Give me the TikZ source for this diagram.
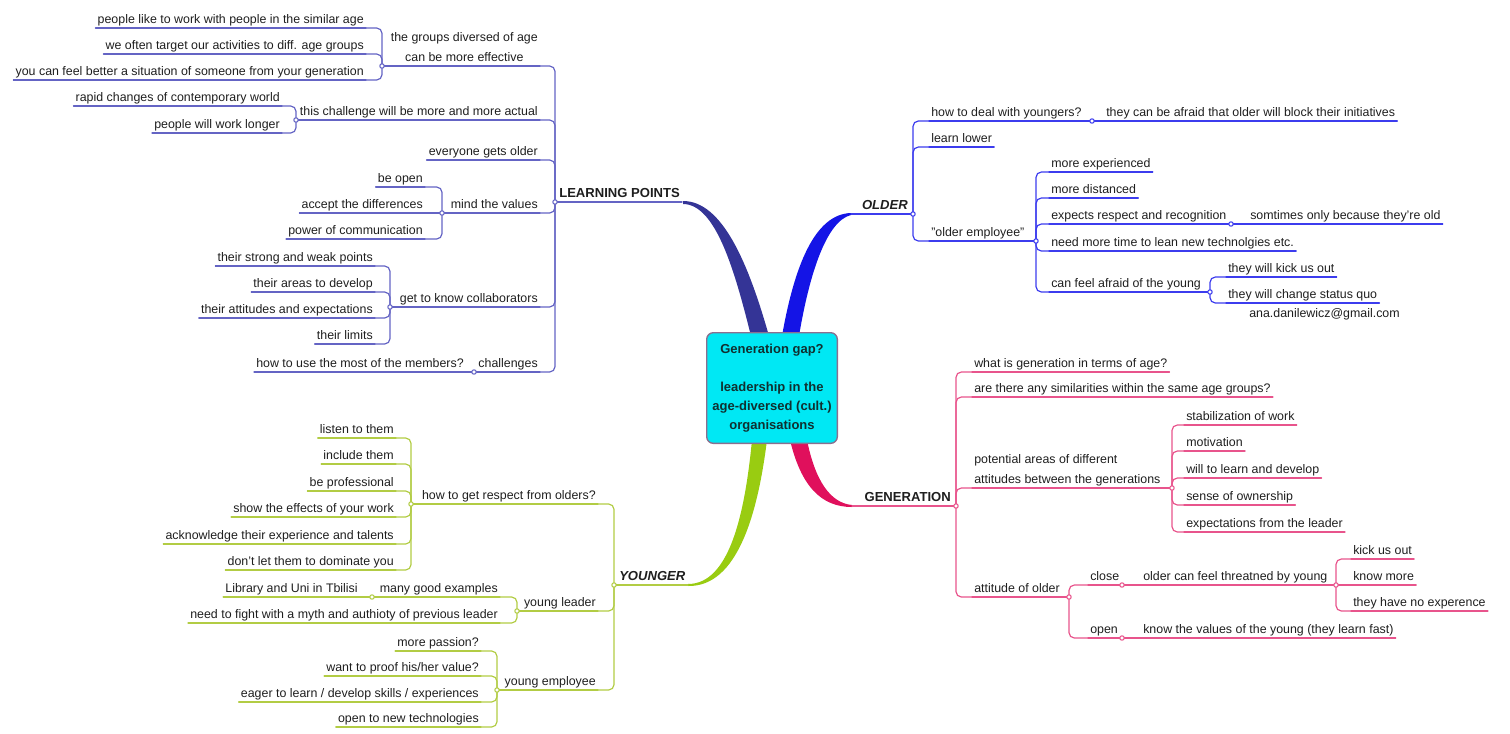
\documentclass[tikz,border=0pt]{standalone}
\usepackage{fontspec}
\setmainfont{Liberation Sans}
\usetikzlibrary{calc}
\definecolor{txt}{HTML}{1E1E1E}
\definecolor{lpcol}{HTML}{6464C4}
\definecolor{lpbranch}{HTML}{343496}
\definecolor{ocol}{HTML}{3C3CEE}
\definecolor{obranch}{HTML}{1414E6}
\definecolor{gcol}{HTML}{E8548C}
\definecolor{gbranch}{HTML}{E0105C}
\definecolor{ycol}{HTML}{B2CC44}
\definecolor{ybranch}{HTML}{99CC11}
\definecolor{boxfill}{HTML}{00E8F4}
\definecolor{boxline}{HTML}{8B6F8F}
\definecolor{boxtext}{HTML}{103030}
\begin{document}
\begin{tikzpicture}[x=0.75pt, y=-0.75pt, line cap=round, line join=round, font=\fontsize{9.3}{15}\selectfont]
	\tikzset{item/.style={inner xsep=1.5pt, inner ysep=0.8pt, text depth=2.2pt, text=txt},
		head/.style={item, font=\fontsize{9.8}{12}\selectfont\bfseries},
		lpline/.style={draw=lpcol, line width=0.9pt, rounded corners=4pt},
		oline/.style={draw=ocol, line width=0.9pt, rounded corners=4pt},
		gline/.style={draw=gcol, line width=0.9pt, rounded corners=4pt},
		yline/.style={draw=ycol, line width=0.9pt, rounded corners=4pt},
		junc/.style={fill=white, line width=0.8pt}}
	\useasboundingbox (0,0) rectangle (1510,733);
	% main branches
	\fill[lpbranch] (683,201) .. controls (722,201) and (748,262) .. (769,336) -- (751,336) .. controls (735,272) and (716,204) .. (683,204) -- cycle;
	\fill[obranch] (782,336) .. controls (794,268) and (814,214) .. (851,213) -- (851,215) .. controls (826,221) and (809,276) .. (799,336) -- cycle;
	\fill[gbranch] (790,440) .. controls (801,486) and (821,507) .. (852,507) -- (852,505) .. controls (830,503) and (815,480) .. (807,440) -- cycle;
	\fill[ybranch] (752,440) .. controls (745,512) and (730,584) .. (688,584) -- (688,586) .. controls (738,587) and (758,512) .. (767,440) -- cycle;
	\node[draw=boxline, fill=boxfill, rounded corners=5pt, line width=1pt, minimum width=98pt, minimum height=83pt, align=center, text=boxtext,
		font=\fontsize{9.75}{14.3}\selectfont\bfseries] (gap) at (772,388) {Generation gap?\\[14.3pt]leadership in the\\age-diversed (cult.)\\organisations};

	% LEARNING POINTS
	\node[head, anchor=south west] (lp) at (557,202) {LEARNING POINTS};
	\coordinate (lpJ) at (555,202);
	\draw[lpline] (lpJ) -- (lp.south east);
	\node[item, anchor=south east, align=center] (lpA) at (540,66) {the groups diversed of age\\can be more effective};
	\coordinate (lpAJ) at (382,66);
	\node[item, anchor=south east] (lpA1) at (366,28) {people like to work with people in the similar age};
	\node[item, anchor=south east] (lpA2) at (366,54) {we often target our activities to diff. age groups};
	\node[item, anchor=south east] (lpA3) at (366,80) {you can feel better a situation of someone from your generation};
	\node[item, anchor=south east] (lpB) at (540,120) {this challenge will be more and more actual};
	\coordinate (lpBJ) at (296,120);
	\node[item, anchor=south east] (lpB1) at (282,106) {rapid changes of contemporary world};
	\node[item, anchor=south east] (lpB2) at (282,133) {people will work longer};
	\node[item, anchor=south east] (lpC) at (540,160) {everyone gets older};
	\node[item, anchor=south east] (lpD) at (540,213) {mind the values};
	\coordinate (lpDJ) at (442,213);
	\node[item, anchor=south east] (lpD1) at (425,187) {be open};
	\node[item, anchor=south east] (lpD2) at (425,213) {accept the differences};
	\node[item, anchor=south east] (lpD3) at (425,239) {power of communication};
	\node[item, anchor=south east] (lpE) at (540,307) {get to know collaborators};
	\coordinate (lpEJ) at (390,307);
	\node[item, anchor=south east] (lpE1) at (375,266) {their strong and weak points};
	\node[item, anchor=south east] (lpE2) at (375,292) {their areas to develop};
	\node[item, anchor=south east] (lpE3) at (375,318) {their attitudes and expectations};
	\node[item, anchor=south east] (lpE4) at (375,344) {their limits};
	\node[item, anchor=south east] (lpF) at (540,372) {challenges};
	\coordinate (lpFJ) at (474,372);
	\node[item, anchor=south east] (lpF1) at (466,372) {how to use the most of the members?};
	\foreach \c in {lpA,lpB,lpC,lpD,lpE,lpF} \draw[lpline] (lpJ) |- (\c.south east);
	\foreach \c/\j in {lpA/lpAJ,lpB/lpBJ,lpD/lpDJ,lpE/lpEJ,lpF/lpFJ} \draw[lpline] (\j) -- (\c.south east);
	\foreach \c in {lpA1,lpA2,lpA3} \draw[lpline] (lpAJ) |- (\c.south east);
	\foreach \c in {lpB1,lpB2} \draw[lpline] (lpBJ) |- (\c.south east);
	\foreach \c in {lpD1,lpD3} \draw[lpline] (lpDJ) |- (\c.south east);
	\draw[lpline] (lpDJ) -- (lpD2.south east);
	\foreach \c in {lpE1,lpE2,lpE3,lpE4} \draw[lpline] (lpEJ) |- (\c.south east);
	\draw[lpline] (lpFJ) -- (lpF1.south east);
	\foreach \c in {lpC,lpA1,lpA2,lpA3,lpB1,lpB2,lpD1,lpD2,lpD3,lpE1,lpE2,lpE3,lpE4,lpF1} \draw[lpline] (\c.south west) -- (\c.south east);
	\foreach \j in {lpJ,lpAJ,lpBJ,lpDJ,lpEJ,lpFJ} \draw[lpline, junc] (\j) circle[radius=2.2];

	% OLDER
	\coordinate (oS) at (851,214);
	\node[head, font=\fontsize{9.8}{12}\selectfont\bfseries\itshape, anchor=south east] (old) at (910,214) {OLDER};
	\coordinate (oJ) at (913,214);
	\draw[oline] (oS) -- (oJ);
	\node[item, anchor=south west] (oA) at (929,121) {how to deal with youngers?};
	\coordinate (oAJ) at (1092,121);
	\node[item, anchor=south west] (oA1) at (1104,121) {they can be afraid that older will block their initiatives};
	\node[item, anchor=south west] (oB) at (929,147) {learn lower};
	\node[item, anchor=south west] (oC) at (929,241) {"older employee"};
	\coordinate (oCJ) at (1036,241);
	\node[item, anchor=south west] (oC1) at (1049,172) {more experienced};
	\node[item, anchor=south west] (oC2) at (1049,198) {more distanced};
	\node[item, anchor=south west] (oC3) at (1049,224) {expects respect and recognition};
	\coordinate (oC3J) at (1231,224);
	\node[item, anchor=south west] (oC31) at (1248,224) {somtimes only because they're old};
	\node[item, anchor=south west] (oC4) at (1049,251) {need more time to lean new technolgies etc.};
	\node[item, anchor=south west] (oC5) at (1049,292) {can feel afraid of the young};
	\coordinate (oC5J) at (1210,292);
	\node[item, anchor=south west] (oC51) at (1226,277) {they will kick us out};
	\node[item, anchor=south west] (oC52) at (1226,303) {they will change status quo};
	\node[item, anchor=south west] (mail) at (1247,322) {ana.danilewicz@gmail.com};
	\foreach \c in {oA,oB,oC} \draw[oline] (oJ) |- (\c.south west);
	\foreach \c/\j in {oA/oAJ,oC/oCJ,oC3/oC3J,oC5/oC5J} \draw[oline] (\c.south west) -- (\j);
	\draw[oline] (oAJ) -- (oA1.south east);
	\foreach \c in {oC1,oC2,oC3,oC4,oC5} \draw[oline] (oCJ) |- (\c.south west);
	\draw[oline] (oC3J) -- (oC31.south east);
	\foreach \c in {oC51,oC52} \draw[oline] (oC5J) |- (\c.south west);
	\foreach \c in {oB,oC1,oC2,oC4,oC51,oC52} \draw[oline] (\c.south west) -- (\c.south east);
	\foreach \j in {oJ,oAJ,oCJ,oC3J,oC5J} \draw[oline, junc] (\j) circle[radius=2.2];

	% GENERATION
	\coordinate (gS) at (852,506);
	\node[head, anchor=south east] (gen) at (953,506) {GENERATION};
	\coordinate (gJ) at (956,506);
	\draw[gline] (gS) -- (gJ);
	\node[item, anchor=south west] (gA) at (972,372) {what is generation in terms of age?};
	\node[item, anchor=south west] (gB) at (972,397) {are there any similarities within the same age groups?};
	\node[item, anchor=south west, align=left] (gC) at (972,488) {potential areas of different\\attitudes between the generations};
	\coordinate (gCJ) at (1172,488);
	\node[item, anchor=south west] (gC1) at (1184,425) {stabilization of work};
	\node[item, anchor=south west] (gC2) at (1184,451) {motivation};
	\node[item, anchor=south west] (gC3) at (1184,478) {will to learn and develop};
	\node[item, anchor=south west] (gC4) at (1184,505) {sense of ownership};
	\node[item, anchor=south west] (gC5) at (1184,532) {expectations from the leader};
	\node[item, anchor=south west] (gD) at (972,597) {attitude of older};
	\coordinate (gDJ) at (1069,597);
	\node[item, anchor=south west] (gD1) at (1088,585) {close};
	\coordinate (gD1J) at (1122,585);
	\node[item, anchor=south west] (gD11) at (1141,585) {older can feel threatned by young};
	\coordinate (gD11J) at (1336,585);
	\node[item, anchor=south west] (gD111) at (1351,559) {kick us out};
	\node[item, anchor=south west] (gD112) at (1351,585) {know more};
	\node[item, anchor=south west] (gD113) at (1351,611) {they have no experence};
	\node[item, anchor=south west] (gD2) at (1088,638) {open};
	\coordinate (gD2J) at (1122,638);
	\node[item, anchor=south west] (gD21) at (1141,638) {know the values of the young (they learn fast)};
	\foreach \c in {gA,gB,gC,gD} \draw[gline] (gJ) |- (\c.south west);
	\foreach \c/\j in {gC/gCJ,gD/gDJ,gD1/gD1J,gD11/gD11J,gD2/gD2J} \draw[gline] (\c.south west) -- (\j);
	\foreach \c in {gC1,gC2,gC3,gC4,gC5} \draw[gline] (gCJ) |- (\c.south west);
	\foreach \c in {gD1,gD2} \draw[gline] (gDJ) |- (\c.south west);
	\draw[gline] (gD1J) -- (gD11.south west);
	\draw[gline] (gD2J) -- (gD21.south east);
	\foreach \c in {gD111,gD113} \draw[gline] (gD11J) |- (\c.south west);
	\draw[gline] (gD11J) -- (gD112.south east);
	\foreach \c in {gA,gB,gC1,gC2,gC3,gC4,gC5,gD111,gD113} \draw[gline] (\c.south west) -- (\c.south east);
	\foreach \j in {gJ,gCJ,gDJ,gD1J,gD11J,gD2J} \draw[gline, junc] (\j) circle[radius=2.2];

	% YOUNGER
	\coordinate (yS) at (688,585);
	\node[head, font=\fontsize{9.8}{12}\selectfont\bfseries\itshape, anchor=south west] (young) at (617,585) {YOUNGER};
	\coordinate (yJ) at (614,585);
	\draw[yline] (yJ) -- (yS);
	\node[item, anchor=south east] (yA) at (598,504) {how to get respect from olders?};
	\coordinate (yAJ) at (411,504);
	\node[item, anchor=south east] (yA1) at (396,438) {listen to them};
	\node[item, anchor=south east] (yA2) at (396,464) {include them};
	\node[item, anchor=south east] (yA3) at (396,491) {be professional};
	\node[item, anchor=south east] (yA4) at (396,517) {show the effects of your work};
	\node[item, anchor=south east] (yA5) at (396,544) {acknowledge their experience and talents};
	\node[item, anchor=south east] (yA6) at (396,570) {don't let them to dominate you};
	\node[item, anchor=south east] (yB) at (598,611) {young leader};
	\coordinate (yBJ) at (517,611);
	\node[item, anchor=south east] (yB1) at (500,597) {many good examples};
	\coordinate (yB1J) at (372,597);
	\node[item, anchor=south east] (yB11) at (360,597) {Library and Uni in Tbilisi};
	\node[item, anchor=south east] (yB2) at (500,623) {need to fight with a myth and authioty of previous leader};
	\node[item, anchor=south east] (yC) at (598,690) {young employee};
	\coordinate (yCJ) at (497,690);
	\node[item, anchor=south east] (yC1) at (481,651) {more passion?};
	\node[item, anchor=south east] (yC2) at (481,676) {want to proof his/her value?};
	\node[item, anchor=south east] (yC3) at (481,702) {eager to learn / develop skills / experiences};
	\node[item, anchor=south east] (yC4) at (481,727) {open to new technologies};
	\foreach \c in {yA,yB,yC} \draw[yline] (yJ) |- (\c.south east);
	\foreach \c/\j in {yA/yAJ,yB/yBJ,yB1/yB1J,yC/yCJ} \draw[yline] (\j) -- (\c.south east);
	\foreach \c in {yA1,yA2,yA3,yA4,yA5,yA6} \draw[yline] (yAJ) |- (\c.south east);
	\foreach \c in {yB1,yB2} \draw[yline] (yBJ) |- (\c.south east);
	\draw[yline] (yB11.south west) -- (yB1J);
	\foreach \c in {yC1,yC2,yC3,yC4} \draw[yline] (yCJ) |- (\c.south east);
	\foreach \c in {yA1,yA2,yA3,yA4,yA5,yA6,yB2,yC1,yC2,yC3,yC4} \draw[yline] (\c.south west) -- (\c.south east);
	\foreach \j in {yJ,yAJ,yBJ,yB1J,yCJ} \draw[yline, junc] (\j) circle[radius=2.2];
\end{tikzpicture}
\end{document}
